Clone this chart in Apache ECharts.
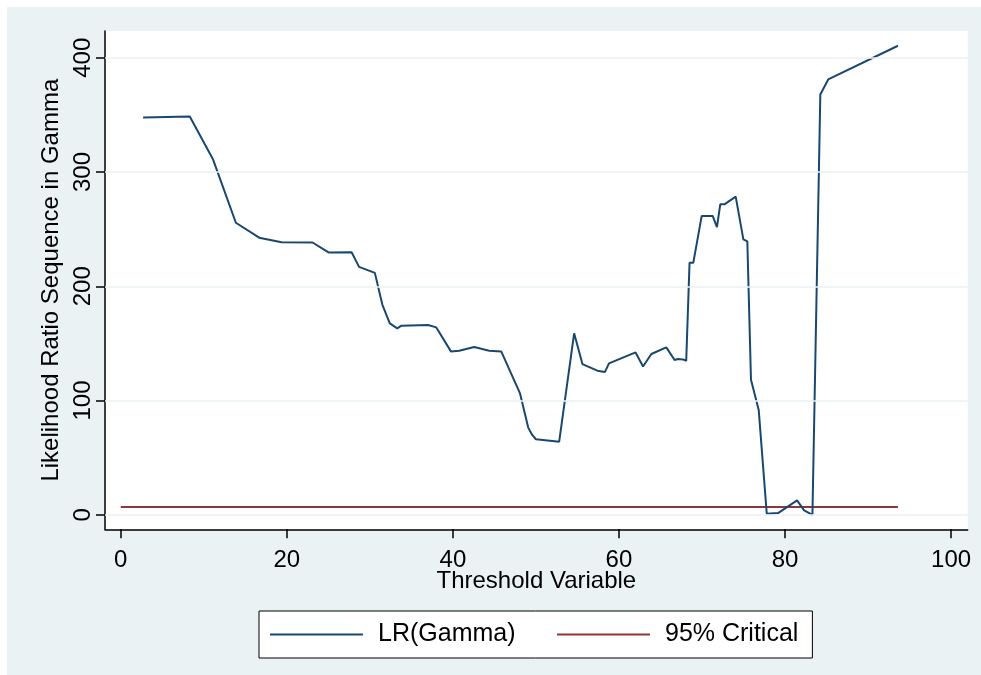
<!DOCTYPE html>
<html>
<head>
<meta charset="utf-8">
<script src="https://cdn.jsdelivr.net/npm/echarts@6/dist/echarts.min.js"></script>
<style>
  html, body { margin: 0; padding: 0; background: #ffffff; }
  #bg { position: absolute; left: 7px; top: 7px; width: 974px; height: 668px; background: #EAF2F3; }
  #chart { position: absolute; left: 0; top: 0; width: 981px; height: 675px; }
</style>
</head>
<body>
<div id="bg"></div>
<div id="chart"></div>
<script>
// Threshold variable (x) and LR(Gamma) values (y)
const lrX = [2.69, 8.31, 11.12, 13.86, 16.67, 19.36, 23.1, 25.02, 27.8, 28.7, 30.6, 31.5, 32.4, 33.3, 33.8, 37.0, 38.0,
  39.76, 40.76, 42.57, 44.37, 45.82, 48.07, 49.07, 49.55, 50.0, 52.8, 54.6, 55.6, 57.4, 58.3, 58.8, 62.0, 62.9, 63.9,
  65.7, 66.7, 67.1, 67.7, 68.1, 68.5, 68.95, 69.96, 71.3, 71.8, 72.2, 72.7, 74.06, 74.98, 75.46, 75.9, 76.83, 77.8,
  79.16, 81.45, 82.3, 83.3, 84.25, 85.2, 93.6];
const lrY = [347.7, 348.6, 310.9, 255.6, 242.5, 238.6, 238.3, 229.6, 229.8, 217.0, 211.7, 184.0, 167.5, 163.2, 165.5, 166.1, 164.0,
  143.0, 143.6, 146.8, 143.6, 143.0, 106.5, 76.3, 69.9, 66.1, 64.0, 158.8, 131.9, 126.1, 124.9, 132.5, 142.1, 129.8, 140.7,
  146.5, 135.4, 136.3, 136.0, 134.8, 220.5, 220.5, 261.4, 261.4, 251.8, 271.7, 271.7, 278.4, 241.0, 239.2, 118.2, 91.8, 0.9,
  1.5, 12.6, 3.9, 0.0, 367.9, 381.0, 410.5];
// 95% critical value line
const critX = [0, 93.6];
const critY = [6.8, 6.8];
// Tick labels
const xTicks = [0, 20, 40, 60, 80, 100];
const yTicks = [0, 100, 200, 300, 400];
const seriesNames = ['LR(Gamma)', '95% Critical'];

const lrData = lrX.map((x, i) => [x, lrY[i]]);
const critData = critX.map((x, i) => [x, critY[i]]);
const FONT = 'Liberation Sans, Arial, sans-serif';

const chart = echarts.init(document.getElementById('chart'), null, { renderer: 'canvas' });
chart.setOption({
  animation: false,
  backgroundColor: 'transparent',
  textStyle: { fontFamily: FONT },
  grid: {
    left: 105, right: 13.3, top: 31, bottom: 145.7,
    show: true, backgroundColor: '#ffffff', borderWidth: 0
  },
  legend: {
    left: 259, top: 611,
    orient: 'horizontal',
    padding: [11, 14, 11, 11],
    itemWidth: 93, itemHeight: 2, itemGap: 41.5,
    icon: 'rect',
    backgroundColor: '#ffffff', borderColor: '#000000', borderWidth: 1,
    textStyle: { fontSize: 25, color: '#000000', fontFamily: FONT, padding: [0, 0, 0, 10] },
    data: seriesNames
  },
  xAxis: {
    type: 'value', min: -1.9, max: 102.0,
    name: 'Threshold Variable', nameLocation: 'middle', nameGap: 40, nameMoveOverlap: false,
    nameTextStyle: { fontSize: 24, color: '#000000', fontFamily: FONT },
    axisLine: { show: true, onZero: false, lineStyle: { color: '#000000', width: 1.5 } },
    axisTick: { show: true, length: 9, customValues: xTicks, lineStyle: { color: '#000000', width: 1.5 } },
    axisLabel: { show: true, customValues: xTicks, fontSize: 24, color: '#000000', margin: 19, fontFamily: FONT },
    splitLine: { show: false }
  },
  yAxis: {
    type: 'value', min: -12.7, max: 423.4,
    name: 'Likelihood Ratio Sequence in Gamma', nameLocation: 'middle', nameGap: 38,
    nameTextStyle: { fontSize: 24, color: '#000000', fontFamily: FONT },
    axisLine: { show: true, onZero: false, lineStyle: { color: '#000000', width: 1.5 } },
    axisTick: { show: true, length: 9, customValues: yTicks, lineStyle: { color: '#000000', width: 1.5 } },
    axisLabel: { show: true, customValues: yTicks, rotate: 90, fontSize: 24, color: '#000000', margin: 10, fontFamily: FONT },
    splitLine: { show: false }
  },
  series: [
    {
      name: seriesNames[0], type: 'line', data: lrData, z: 3,
      showSymbol: false, symbol: 'none',
      lineStyle: { color: '#1A476F', width: 2 },
      itemStyle: { color: '#1A476F' }
    },
    {
      name: seriesNames[1], type: 'line', data: critData, z: 2,
      showSymbol: false, symbol: 'none',
      lineStyle: { color: '#90353B', width: 2 },
      itemStyle: { color: '#90353B' },
      markLine: {
        silent: true, symbol: 'none', animation: false,
        label: { show: false },
        lineStyle: { color: '#EAF2F3', width: 1.5, type: 'solid' },
        emphasis: { disabled: true },
        data: yTicks.map(v => ({ yAxis: v }))
      }
    }
  ]
});
</script>
</body>
</html>
